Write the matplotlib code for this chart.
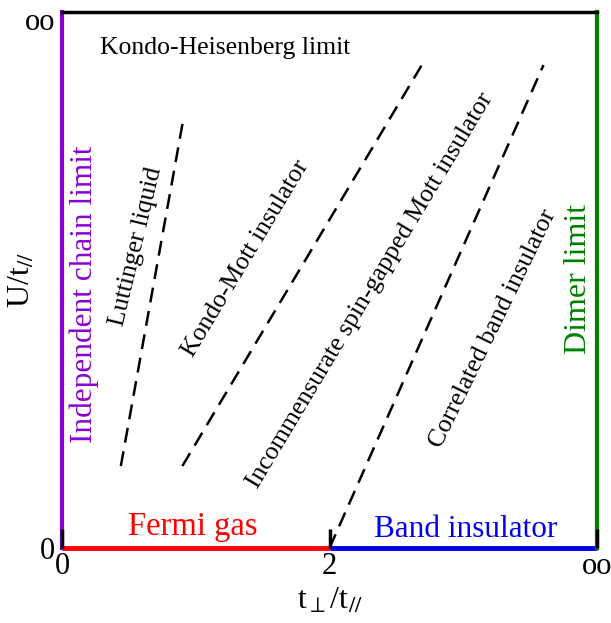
import matplotlib
matplotlib.use("Agg")
import matplotlib.pyplot as plt
from matplotlib.transforms import ScaledTranslation

plt.rcParams['font.family'] = ['Liberation Serif', 'DejaVu Serif']
plt.rcParams['mathtext.fontset'] = 'stix'

# phase boundaries (t_perp/t_par, U/t_par), x: 0..4 with 4 = infinity, y: 0..10 with 10 = infinity
luttinger_x = [0.44, 0.91]
luttinger_y = [1.53, 8.04]
kondo_mott_x = [0.90, 2.69]
kondo_mott_y = [1.53, 9.01]
band_x = [2.0, 3.60]
band_y = [0.0, 9.01]

xticks = [0, 2, 4]
xticklabels = ['0', '2', 'oo']
yticks = [0, 10]
yticklabels = ['0', 'oo']

fig = plt.figure(figsize=(6.11, 6.23), dpi=100)
ax = fig.add_axes([62/611, 1-548/623, 535/611, 536/623])
ax.set_xlim(0, 4)
ax.set_ylim(0, 10)

dash = dict(color='black', lw=1.8, dashes=(6, 3.5))
ax.plot(luttinger_x, luttinger_y, **dash)
ax.plot(kondo_mott_x, kondo_mott_y, **dash)
ax.plot(band_x, band_y, **dash)

# coloured limits along the frame
ax.spines['left'].set_color('#8a00d4')
ax.spines['left'].set_linewidth(3)
ax.spines['right'].set_color('#008000')
ax.spines['right'].set_linewidth(3)
ax.spines['top'].set_linewidth(2.5)
ax.spines['bottom'].set_visible(False)
ax.plot([0, 2], [0, 0], color='red', lw=3.5, clip_on=False, solid_capstyle='butt')
ax.plot([2, 4], [0, 0], color='#0000ee', lw=3.5, clip_on=False, solid_capstyle='butt')

ax.set_xticks(xticks)
ax.set_xticklabels(xticklabels, fontsize=22)
ax.set_yticks(yticks)
ax.set_yticklabels(yticklabels, fontsize=22)
ax.xaxis.set_zorder(3)
ax.tick_params(axis='x', direction='in', length=14, width=2.5, pad=3)
ax.tick_params(axis='y', length=0, pad=5)
lbl = ax.get_yticklabels()[1]
lbl.set_transform(lbl.get_transform() + ScaledTranslation(0, -0.07, fig.dpi_scale_trans))
ax.set_xlabel(r't$_{\perp}$/t$_{//}$', fontsize=23, labelpad=4)
ax.set_ylabel(r'U/t$_{//}$', fontsize=23, va='center')
ax.yaxis.set_label_coords(-0.075, 0.5)

ax.text(1.22, 9.33, 'Kondo-Heisenberg limit', fontsize=18.5, ha='center', va='center')
ax.text(0.553, 5.63, 'Luttinger liquid', fontsize=18.5, rotation=76.5,
        ha='center', va='center', rotation_mode='anchor')
ax.text(1.376, 5.41, 'Kondo-Mott insulator', fontsize=18.5, rotation=59,
        ha='center', va='center', rotation_mode='anchor')
ax.text(2.303, 4.81, 'Incommensurate spin-gapped Mott insulator', fontsize=18.5,
        rotation=59, ha='center', va='center', rotation_mode='anchor')
ax.text(3.222, 4.10, 'Correlated band insulator', fontsize=18.5, rotation=64,
        ha='center', va='center', rotation_mode='anchor')
ax.text(0.164, 4.74, 'Independent chain limit', fontsize=22.5, color='#8a00d4',
        rotation=90, ha='center', va='center')
ax.text(3.858, 5.02, 'Dimer limit', fontsize=23, color='#008000',
        rotation=90, ha='center', va='center')
ax.text(0.979, 0.39, 'Fermi gas', fontsize=23.5, color='red', ha='center', va='center')
ax.text(3.02, 0.34, 'Band insulator', fontsize=22.5, color='#0000ee', ha='center', va='center')

fig.savefig('out.png', dpi=100)
